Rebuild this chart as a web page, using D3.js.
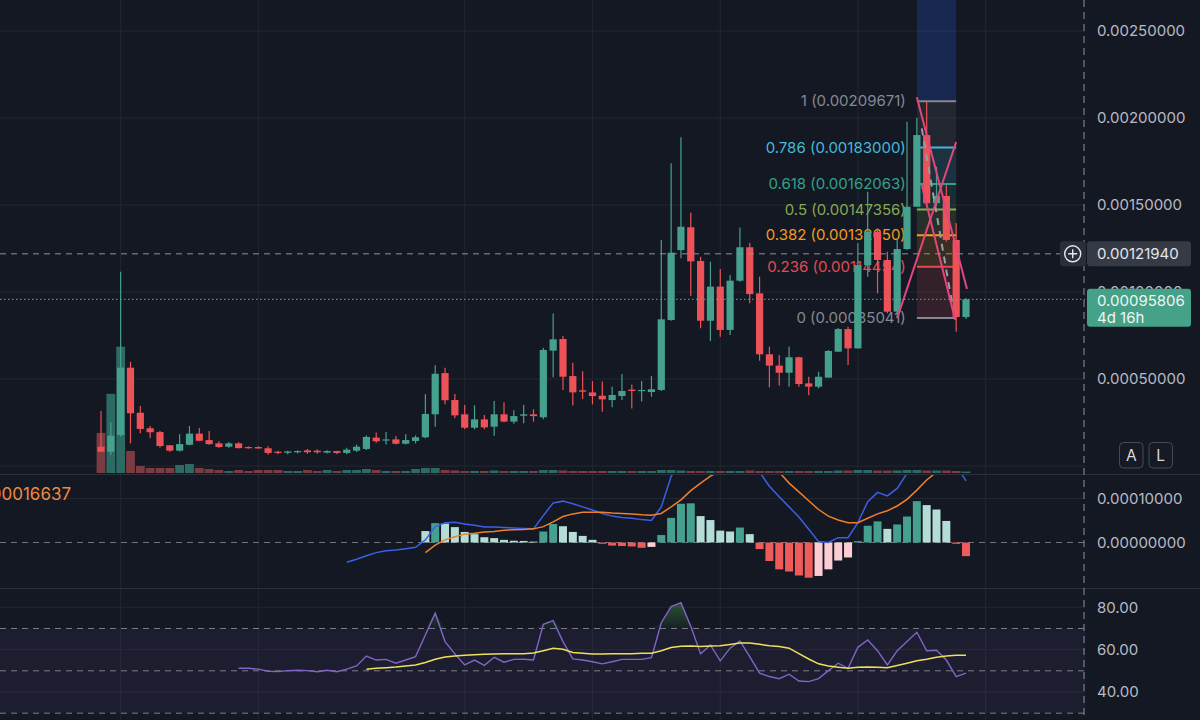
<!DOCTYPE html>
<html>
<head>
<meta charset="utf-8">
<script src="https://cdn.jsdelivr.net/npm/d3@7"></script>
<style>
	html, body { margin: 0; padding: 0; background: #141823; overflow: hidden; }
	svg { display: block; font-family: Inter, Roboto, "Noto Sans", sans-serif; }
</style>
</head>
<body>
<div id="chart"></div>
<script>
// ---- candles (prices in units of 1e-6) ----
const PRICE_UNIT = 1e-6;
const candleOpen = [111, 82, 178, 565, 306, 217, 195, 119, 88, 122, 186, 149, 130, 111, 130, 109, 109, 102, 82, 76, 79, 90, 88, 77, 86, 75, 88, 98, 163, 148, 153, 128, 144, 165, 297, 534, 379, 297, 220, 268, 226, 297, 255, 289, 297, 280, 663, 730, 517, 435, 423, 404, 379, 402, 439, 431, 425, 437, 839, 1241, 1372, 1178, 835, 1031, 782, 1065, 1257, 992, 642, 577, 536, 625, 475, 456, 508, 657, 787, 676, 1155, 1347, 1184, 887, 1247, 1490, 1902, 1510, 1552, 1299, 856];
const candleHigh = [316, 251, 1117, 599, 345, 230, 201, 121, 182, 230, 218, 201, 142, 138, 136, 113, 113, 113, 88, 88, 90, 98, 96, 90, 88, 105, 123, 176, 192, 195, 172, 182, 176, 412, 579, 565, 414, 351, 349, 293, 374, 366, 320, 351, 326, 680, 877, 747, 594, 544, 488, 485, 456, 529, 469, 488, 517, 1299, 1740, 1889, 1456, 1203, 1174, 1132, 1098, 1370, 1283, 1088, 686, 638, 686, 628, 513, 542, 667, 793, 801, 1280, 1576, 1366, 1232, 1309, 1979, 2000, 2096.71, 1720, 1615, 1397, 966];
const candleLow = [80, 63, 170, 130, 188, 159, 107, 82, 84, 119, 142, 122, 105, 105, 100, 100, 99, 65, 68, 68, 72, 70, 70, 72, 68, 68, 80, 92, 134, 123, 123, 123, 130, 160, 226, 355, 274, 211, 211, 211, 174, 251, 243, 245, 255, 268, 510, 437, 347, 385, 354, 312, 337, 379, 331, 370, 398, 431, 835, 1194, 977, 791, 718, 743, 753, 1059, 935, 605, 452, 462, 456, 456, 406, 446, 508, 655, 580, 676, 1088, 992, 878, 850.41, 1241, 1490, 1500, 1494, 1289, 772, 845];
const candleClose = [82, 174, 565, 303, 213, 194, 115, 88, 126, 186, 145, 126, 109, 130, 103, 102, 101, 75, 75, 84, 86, 79, 79, 86, 75, 94, 111, 167, 142, 153, 128, 149, 165, 299, 530, 378, 291, 220, 268, 222, 297, 255, 287, 297, 287, 667, 728, 513, 423, 427, 402, 383, 408, 431, 431, 437, 441, 843, 1226, 1375, 1176, 835, 1031, 782, 1065, 1257, 988, 642, 577, 536, 625, 471, 456, 513, 661, 787, 676, 1155, 1347, 1184, 887, 1247, 1490, 1902, 1510, 1552, 1299, 856, 958.06];
const volume = [40, 79, 126, 22, 7, 5, 5, 5, 8, 9, 5, 4, 3, 2, 3, 2, 3, 3, 3, 2, 2, 3, 2, 3, 2, 3, 3, 4, 3, 2, 2, 2, 4, 5, 5, 3, 2.5, 2, 2, 2, 2.5, 2, 2, 2, 2, 3, 3, 2.5, 2, 2, 2, 2, 2, 2, 2, 2, 2, 3, 3, 2.5, 2, 2, 2, 2, 2, 2, 2.5, 2, 2, 2, 2, 2, 2, 2, 2, 2.5, 2.5, 3, 3, 2.5, 2.5, 2.5, 3, 3, 2.5, 2.5, 2.5, 2, 1.5];

// ---- MACD (units of 1e-6) ----
const macdStart = 25;
const macdLine = [-45, -38, -30, -23, -19, -17, -14, -11, 6, 36, 45, 46, 42, 39, 35, 35, 34, 33, 32, 31, 61, 90, 94, 88, 81, 74, 66, 60, 57, 55, 52, 50, 81, 150, 185, 207, 195, 202, 187, 190, 206, 194, 160, 128, 104, 81, 58, 30, 2, 0, 11, 11, 45, 93, 114, 106, 123, 157, 213, 227, 235, 221, 175, 140];
const signalStart = 33;
const signalLine = [-23, -6, 6, 13, 19, 21, 24, 25, 28, 29, 29.5, 31, 36, 47, 59, 65, 69, 69, 69, 67, 66, 65, 63, 62, 66, 81, 97, 118, 135, 151, 162, 168, 175, 178, 176, 170, 160, 135, 115, 95, 75, 60, 51, 45, 45, 55, 65, 72, 83, 98, 119, 142, 160, 172, 178, 171];
const histStart = 33;
const histValues = [26, 44, 43, 35, 24, 19, 12, 10, 6, 4, 3.5, 2, 25, 42, 37, 24, 15, 6, -3, -7, -8, -9, -12, -10, 17, 56, 88, 89, 60, 51, 27, 25, 34, 19, -15, -42, -61, -66, -75, -80, -76, -61, -41, -34, 3, 38, 48, 31, 41, 59, 94, 85, 75, 49, -3, -31];
const macdLegend = '0.00016637';

// ---- RSI ----
const rsiStart = 14;
const rsiValues = [51.2, 51.2, 50.8, 49.8, 49.6, 50.1, 50.3, 50.1, 49.6, 50.3, 49.6, 50.8, 52.3, 57, 55.1, 55.4, 53.6, 55.1, 56.7, 66.9, 77.2, 63.8, 58, 52.8, 55.1, 52.6, 56.4, 54.1, 55.4, 55.5, 55.1, 72, 73.7, 63.8, 55.6, 55.1, 54.3, 53.3, 54.3, 55.4, 55.4, 55.4, 56.2, 72.7, 80.3, 82.2, 71, 58, 62.2, 54.7, 60.7, 64.1, 56.7, 48.9, 47.3, 46.3, 48.4, 45.2, 44.9, 46.3, 50.1, 53.6, 51.2, 61.1, 64.6, 59.5, 52.8, 59.5, 63.8, 68.2, 59.5, 59.7, 55.1, 47.3, 48.9];
const rsiMaStart = 27;
const rsiMaValues = [50.8, 51.2, 51.5, 51.8, 52.3, 52.8, 53.9, 55.5, 56.5, 57, 57.3, 57.6, 57.8, 57.9, 58.1, 58.1, 58.1, 58.4, 59.5, 60.7, 60.2, 58.7, 58.3, 57.9, 57.9, 58.1, 58.1, 58.1, 58.3, 58.3, 59.5, 61, 61.6, 61.7, 61.5, 61.7, 61.8, 62.4, 63.1, 63.1, 62.5, 61.8, 61.5, 60.7, 58.1, 55.6, 53.3, 52.3, 51.7, 51.2, 51.7, 51.8, 51.7, 51.5, 52.5, 53.6, 54.8, 55.5, 56.4, 57, 57.3, 57.3];

// ---- axes / grid ----
const priceTicks = [0.0005, 0.001, 0.0015, 0.002, 0.0025];
const priceGrid = [0, 0.0005, 0.001, 0.0015, 0.002, 0.0025];
const macdTicks = [0, 0.0001];
const rsiTicks = [40, 60, 80];
const rsiBands = [30, 50, 70];
const timeGridIdx = [2, 16, 37, 50, 63, 77, 90];

// ---- drawings ----
const fibRatios = [0, 0.236, 0.382, 0.5, 0.618, 0.786, 1, 1.618];
const fibPrices = [0.00085041, 0.00114454, 0.00132650, 0.00147356, 0.00162063, 0.00183000, 0.00209671, 0.00286695];
const fibSpan = [83, 87];
const pinkLines = [
	[[83.0, 0.002119], [88.1, 0.001017]],
	[[81.0, 0.000850], [87.0, 0.001862]],
	[[83.5, 0.001615], [86.9, 0.000839]]
];
const greyTrend = [[83.5, 0.00194], [86.6, 0.00093]];
const lastPrice = 0.00095806;
const countdown = '4d 16h';
const crossPrice = 0.0012194;

// ---- styles ----
const UP = '#45a18d';
const DOWN = '#ec5257';
const fibColor = {
	0: '#858892', 0.236: '#e24a53', 0.382: '#f39c1e', 0.5: '#86aa52',
	0.618: '#35a08a', 0.786: '#45b8da', 1: '#858892', 1.618: '#2a5ae8'
};
const gridColor = '#22262f';
const axisText = '#b8bbc4';

const width = 1200;
const height = 720;
const axisX = 1085;

const $svg = d3.select('#chart').append('svg')
	.attr('width', width)
	.attr('height', height);

$svg.append('rect').attr('width', width).attr('height', height).attr('fill', '#141823');

const defs = $svg.append('defs');
function clip(id, top, bottom) {
	defs.append('clipPath').attr('id', id)
		.append('rect').attr('x', 0).attr('y', top).attr('width', axisX).attr('height', bottom - top);
	return `url(#${id})`;
}

// scales
const n = candleOpen.length;
const x = d3.scaleLinear().domain([0, n - 1]).range([101, 966]);
const yPrice = d3.scaleLinear().domain([0, 0.0025]).range([466, 31]);
const yVol = d3.scaleLinear().domain([0, d3.max(volume)]).range([473, 346.7]);
const yMacd = d3.scaleLinear().domain([0, 0.0001]).range([542.5, 498.5]);
const yRsi = d3.scaleLinear().domain([40, 80]).range([692, 607.3]);
const step = x(1) - x(0);

const candles = d3.range(n).map(i => ({
	i,
	o: candleOpen[i] * PRICE_UNIT,
	h: candleHigh[i] * PRICE_UNIT,
	l: candleLow[i] * PRICE_UNIT,
	c: candleClose[i] * PRICE_UNIT,
	v: volume[i]
}));

// ---- grid ----
const $grid = $svg.append('g').attr('class', 'g-grid');
$grid.selectAll('.vgrid').data(timeGridIdx).enter().append('line')
	.attr('x1', d => x(d)).attr('x2', d => x(d))
	.attr('y1', 0).attr('y2', height)
	.attr('stroke', gridColor);
$grid.selectAll('.hgrid').data(priceGrid).enter().append('line')
	.attr('x1', 0).attr('x2', axisX)
	.attr('y1', d => yPrice(d)).attr('y2', d => yPrice(d))
	.attr('stroke', gridColor);
$grid.append('line')
	.attr('x1', 0).attr('x2', axisX)
	.attr('y1', yMacd(0.0001)).attr('y2', yMacd(0.0001))
	.attr('stroke', gridColor);
$grid.selectAll('.rgrid').data(rsiTicks).enter().append('line')
	.attr('x1', 0).attr('x2', axisX)
	.attr('y1', d => yRsi(d)).attr('y2', d => yRsi(d))
	.attr('stroke', gridColor);

// pane separators
[474.5, 588.5].forEach(yy => {
	$svg.append('line').attr('x1', 0).attr('x2', width)
		.attr('y1', yy).attr('y2', yy).attr('stroke', '#2b2f3b');
});

// ---- main pane ----
const $main = $svg.append('g').attr('clip-path', clip('clip-main', 0, 474));

// fib zones, lines and labels
const fibX0 = x(fibSpan[0]);
const fibX1 = x(fibSpan[1]);
const zones = d3.range(1, fibRatios.length).map(k => ({
	lo: fibPrices[k - 1], hi: fibPrices[k], r: fibRatios[k]
}));
$main.selectAll('.fib-zone').data(zones).enter().append('rect')
	.attr('x', fibX0).attr('width', fibX1 - fibX0)
	.attr('y', d => yPrice(d.hi))
	.attr('height', d => yPrice(d.lo) - yPrice(d.hi))
	.attr('fill', d => fibColor[d.r])
	.attr('fill-opacity', d => d.r === 1.618 ? 0.24 : (d.r === 1 ? 0.12 : 0.16));

const fibLevels = fibRatios.map((r, k) => ({ r, p: fibPrices[k] }));
$main.selectAll('.fib-line').data(fibLevels).enter().append('line')
	.attr('x1', fibX0).attr('x2', fibX1)
	.attr('y1', d => yPrice(d.p)).attr('y2', d => yPrice(d.p))
	.attr('stroke', d => fibColor[d.r])
	.attr('stroke-width', 2);
$main.selectAll('.fib-label').data(fibLevels.filter(d => d.r <= 1)).enter().append('text')
	.attr('x', fibX0 - 11)
	.attr('y', d => yPrice(d.p))
	.attr('dy', '0.35em')
	.attr('text-anchor', 'end')
	.attr('font-size', 15)
	.attr('fill', d => fibColor[d.r])
	.text(d => `${d.r} (${d3.format('.8f')(d.p)})`);

// volume
$main.selectAll('.vol').data(candles).enter().append('rect')
	.attr('x', d => x(d.i) - step / 2 + 0.5)
	.attr('width', step - 1)
	.attr('y', d => yVol(d.v))
	.attr('height', d => yVol(0) - yVol(d.v))
	.attr('fill', d => d.c >= d.o ? '#2d6a64' : '#7a3b41');

// candles
const $candles = $main.selectAll('.candle').data(candles).enter().append('g');
$candles.append('line')
	.attr('x1', d => x(d.i)).attr('x2', d => x(d.i))
	.attr('y1', d => yPrice(d.h)).attr('y2', d => yPrice(d.l))
	.attr('stroke', d => d.c >= d.o ? UP : DOWN)
	.attr('stroke-width', 1.2);
$candles.append('rect')
	.attr('x', d => x(d.i) - 3.6)
	.attr('width', 7.2)
	.attr('y', d => yPrice(Math.max(d.o, d.c)))
	.attr('height', d => Math.max(1.2, Math.abs(yPrice(d.o) - yPrice(d.c))))
	.attr('fill', d => d.c >= d.o ? UP : DOWN);

// drawn trend lines
$main.append('line')
	.attr('x1', x(greyTrend[0][0])).attr('y1', yPrice(greyTrend[0][1]))
	.attr('x2', x(greyTrend[1][0])).attr('y2', yPrice(greyTrend[1][1]))
	.attr('stroke', '#9a9ca6').attr('stroke-width', 2).attr('stroke-dasharray', '7 6');
$main.selectAll('.pink').data(pinkLines).enter().append('line')
	.attr('x1', d => x(d[0][0])).attr('y1', d => yPrice(d[0][1]))
	.attr('x2', d => x(d[1][0])).attr('y2', d => yPrice(d[1][1]))
	.attr('stroke', '#e4457a').attr('stroke-width', 2);

// last price dotted line
$main.append('line')
	.attr('x1', 0).attr('x2', axisX)
	.attr('y1', yPrice(lastPrice)).attr('y2', yPrice(lastPrice))
	.attr('stroke', '#5fa99b').attr('stroke-dasharray', '1.5 2.5');

// ---- MACD pane ----
const $macd = $svg.append('g').attr('clip-path', clip('clip-macd', 475, 588));
$macd.append('line')
	.attr('x1', 0).attr('x2', axisX)
	.attr('y1', yMacd(0)).attr('y2', yMacd(0))
	.attr('stroke', '#6e727d').attr('stroke-dasharray', '6 5');

const hist = histValues.map((v, k) => ({
	i: histStart + k,
	v: v * PRICE_UNIT,
	prev: k > 0 ? histValues[k - 1] * PRICE_UNIT : Infinity
}));
function histColor(d) {
	if (d.v >= 0) return d.v > d.prev ? '#45a08f' : '#b4ddd6';
	return d.v < d.prev ? '#ef5a5a' : '#fccdd3';
}
$macd.selectAll('.hist').data(hist).enter().append('rect')
	.attr('x', d => x(d.i) - 4)
	.attr('width', 8)
	.attr('y', d => Math.min(yMacd(d.v), yMacd(0)))
	.attr('height', d => Math.abs(yMacd(d.v) - yMacd(0)))
	.attr('fill', histColor);

const macdPts = macdLine.map((v, k) => [macdStart + k, v * PRICE_UNIT]);
const signalPts = signalLine.map((v, k) => [signalStart + k, v * PRICE_UNIT]);
const lineMacd = d3.line().x(d => x(d[0])).y(d => yMacd(d[1]));
$macd.append('path').attr('d', lineMacd(macdPts))
	.attr('fill', 'none').attr('stroke', '#3b5fe8').attr('stroke-width', 1.5);
$macd.append('path').attr('d', lineMacd(signalPts))
	.attr('fill', 'none').attr('stroke', '#f07f2a').attr('stroke-width', 1.5);

$svg.append('text')
	.attr('x', -24).attr('y', 494)
	.attr('dy', '0.35em')
	.attr('font-size', 17)
	.attr('fill', '#f08a3c')
	.text(macdLegend);

// ---- RSI pane ----
const $rsi = $svg.append('g').attr('clip-path', clip('clip-rsi', 589, 720));
$rsi.append('rect')
	.attr('x', 0).attr('width', axisX)
	.attr('y', yRsi(70)).attr('height', yRsi(30) - yRsi(70))
	.attr('fill', '#7e57c2').attr('fill-opacity', 0.09);
$rsi.selectAll('.band').data(rsiBands).enter().append('line')
	.attr('x1', 0).attr('x2', axisX)
	.attr('y1', d => yRsi(d)).attr('y2', d => yRsi(d))
	.attr('stroke', '#7b7e89').attr('stroke-dasharray', '6 5');

const rsiPts = rsiValues.map((v, k) => [rsiStart + k, v]);
const rsiMaPts = rsiMaValues.map((v, k) => [rsiMaStart + k, v]);

const grad = defs.append('linearGradient').attr('id', 'ob-grad')
	.attr('gradientUnits', 'userSpaceOnUse')
	.attr('x1', 0).attr('x2', 0).attr('y1', yRsi(84)).attr('y2', yRsi(70));
grad.append('stop').attr('offset', 0).attr('stop-color', '#4caf50').attr('stop-opacity', 0.45);
grad.append('stop').attr('offset', 1).attr('stop-color', '#4caf50').attr('stop-opacity', 0.05);
$rsi.append('path')
	.attr('d', d3.area().x(d => x(d[0])).y0(yRsi(70)).y1(d => yRsi(Math.max(70, d[1])))(rsiPts))
	.attr('fill', 'url(#ob-grad)');

const lineRsi = d3.line().x(d => x(d[0])).y(d => yRsi(d[1]));
$rsi.append('path').attr('d', lineRsi(rsiPts))
	.attr('fill', 'none').attr('stroke', '#8064c8').attr('stroke-width', 1.4);
$rsi.append('path').attr('d', lineRsi(rsiMaPts))
	.attr('fill', 'none').attr('stroke', '#efe05a').attr('stroke-width', 1.5);

// ---- crosshair ----
$svg.append('line')
	.attr('x1', 0).attr('x2', 1060)
	.attr('y1', yPrice(crossPrice)).attr('y2', yPrice(crossPrice))
	.attr('stroke', '#8d909b').attr('stroke-dasharray', '6 5');
$svg.append('line')
	.attr('x1', axisX - 1).attr('x2', axisX - 1)
	.attr('y1', 0).attr('y2', height)
	.attr('stroke', '#8d909b').attr('stroke-dasharray', '7 5');

// ---- right axes ----
function styleAxis(g) {
	g.select('.domain').remove();
	g.selectAll('text')
		.attr('fill', axisText)
		.attr('font-size', 15)
		.attr('font-family', 'Inter, Roboto, sans-serif');
}
$svg.append('g').attr('transform', `translate(${axisX},0)`)
	.call(d3.axisRight(yPrice).tickValues(priceTicks).tickFormat(d3.format('.8f')).tickSize(0).tickPadding(12))
	.call(styleAxis);
$svg.append('g').attr('transform', `translate(${axisX},0)`)
	.call(d3.axisRight(yMacd).tickValues(macdTicks).tickFormat(d3.format('.8f')).tickSize(0).tickPadding(12))
	.call(styleAxis);
$svg.append('g').attr('transform', `translate(${axisX},0)`)
	.call(d3.axisRight(yRsi).tickValues(rsiTicks).tickFormat(d3.format('.2f')).tickSize(0).tickPadding(12))
	.call(styleAxis);

// crosshair price tag with plus button
const cy = yPrice(crossPrice);
$svg.append('rect').attr('x', 1060).attr('y', cy - 12.5).attr('width', 26).attr('height', 25)
	.attr('rx', 3).attr('fill', '#2a2e39');
$svg.append('circle').attr('cx', 1072.7).attr('cy', cy).attr('r', 8)
	.attr('fill', 'none').attr('stroke', '#e6e8ee').attr('stroke-width', 1.4);
$svg.append('path')
	.attr('d', `M1068.2,${cy}H1077.2M1072.7,${cy - 4.5}V${cy + 4.5}`)
	.attr('stroke', '#e6e8ee').attr('stroke-width', 1.4);
$svg.append('rect').attr('x', 1087).attr('y', cy - 12.5).attr('width', 104).attr('height', 25)
	.attr('rx', 3).attr('fill', '#363a45');
$svg.append('text').attr('x', 1097).attr('y', cy).attr('dy', '0.35em')
	.attr('font-size', 15).attr('fill', '#e3e5ea')
	.text(d3.format('.8f')(crossPrice));

// last price tag
const ly = yPrice(lastPrice);
$svg.append('rect').attr('x', 1087).attr('y', ly - 10.5).attr('width', 104).attr('height', 38)
	.attr('rx', 3).attr('fill', '#45a188');
$svg.append('text').attr('x', 1097).attr('y', ly + 1).attr('dy', '0.35em')
	.attr('font-size', 15).attr('fill', '#eef7f3')
	.text(d3.format('.8f')(lastPrice));
$svg.append('text').attr('x', 1097).attr('y', ly + 18).attr('dy', '0.35em')
	.attr('font-size', 15).attr('fill', '#eef7f3')
	.text(countdown);

// A / L buttons
[['A', 1119.5], ['L', 1149]].forEach(([t, bx]) => {
	$svg.append('rect').attr('x', bx).attr('y', 442.5).attr('width', 23.5).attr('height', 25.5)
		.attr('rx', 4).attr('fill', '#161a25').attr('stroke', '#464a56');
	$svg.append('text').attr('x', bx + 11.75).attr('y', 455.5).attr('dy', '0.36em')
		.attr('text-anchor', 'middle').attr('font-size', 15.5).attr('fill', '#d6d8de')
		.text(t);
});
</script>
</body>
</html>
